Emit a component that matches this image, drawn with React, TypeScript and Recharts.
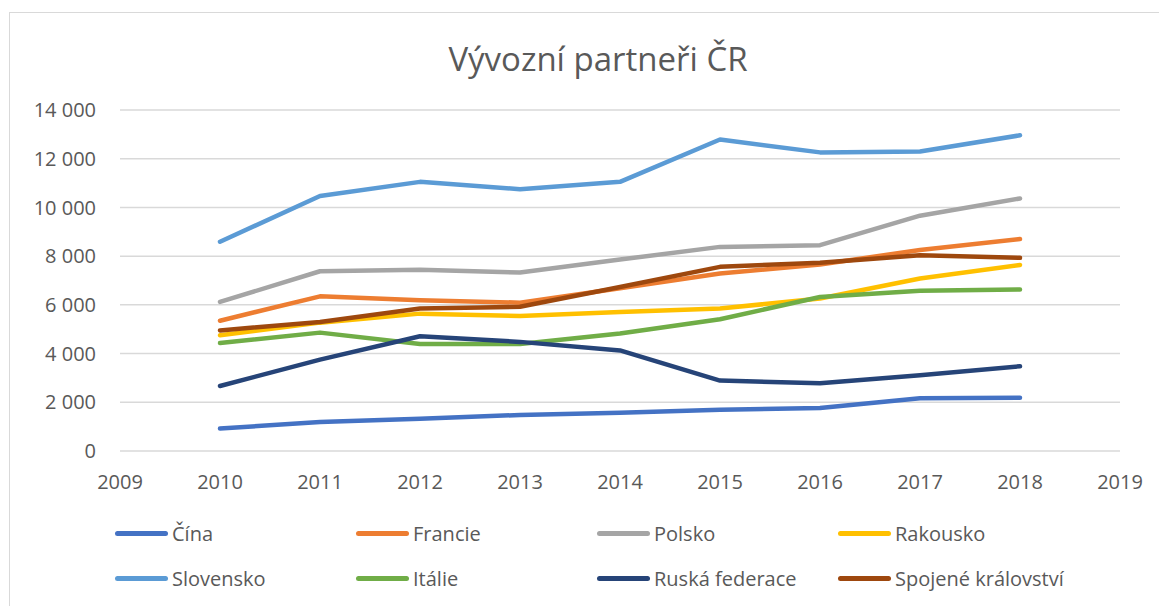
import { LineChart, Line, XAxis, YAxis, CartesianGrid, Legend } from 'recharts'

const roky = [2010, 2011, 2012, 2013, 2014, 2015, 2016, 2017, 2018]

const cina = [920, 1190, 1320, 1480, 1570, 1690, 1770, 2170, 2190]
const francie = [5350, 6350, 6190, 6090, 6680, 7290, 7660, 8250, 8700]
const polsko = [6120, 7380, 7440, 7330, 7860, 8380, 8450, 9660, 10370]
const rakousko = [4750, 5270, 5640, 5540, 5710, 5850, 6260, 7080, 7640]
const slovensko = [8590, 10470, 11050, 10750, 11050, 12790, 12260, 12300, 12960]
const italie = [4430, 4860, 4390, 4390, 4820, 5410, 6320, 6580, 6630]
const ruskaFederace = [2670, 3750, 4710, 4480, 4130, 2890, 2780, 3110, 3480]
const spojeneKralovstvi = [4950, 5300, 5850, 5920, 6730, 7560, 7730, 8040, 7930]

const yTicks = [0, 2000, 4000, 6000, 8000, 10000, 12000, 14000]
const xTicks = [2009, 2010, 2011, 2012, 2013, 2014, 2015, 2016, 2017, 2018, 2019]

const serie = [
  { key: 'cina', name: 'Čína', color: '#4472c4', values: cina },
  { key: 'francie', name: 'Francie', color: '#ed7d31', values: francie },
  { key: 'polsko', name: 'Polsko', color: '#a5a5a5', values: polsko },
  { key: 'rakousko', name: 'Rakousko', color: '#ffc000', values: rakousko },
  { key: 'slovensko', name: 'Slovensko', color: '#5b9bd5', values: slovensko },
  { key: 'italie', name: 'Itálie', color: '#70ad47', values: italie },
  { key: 'ruska', name: 'Ruská federace', color: '#264478', values: ruskaFederace },
  { key: 'spojene', name: 'Spojené království', color: '#9e480e', values: spojeneKralovstvi },
]

const data = roky.map((rok, i) => {
  const row: Record<string, number> = { rok }
  serie.forEach(s => { row[s.key] = s.values[i] })
  return row
})

const FONT = '"Open Sans", sans-serif'
const GRAY = '#595959'

const formatTisice = (v: number) =>
  v === 0 ? '0' : `${Math.floor(v / 1000)} ${String(v % 1000).padStart(3, '0')}`

function LegendaObsah() {
  return (
    <div style={{ display: 'grid', gridTemplateColumns: 'repeat(4, 241px)', rowGap: 21, paddingLeft: 115 }}>
      {serie.map(s => (
        <div key={s.key} style={{ display: 'flex', alignItems: 'center', height: 24 }}>
          <span style={{ width: 53, height: 5, borderRadius: 3, background: s.color, marginRight: 4 }} />
          <span style={{ fontFamily: FONT, fontSize: 20, color: GRAY, whiteSpace: 'nowrap' }}>{s.name}</span>
        </div>
      ))}
    </div>
  )
}

export default function App() {
  return (
    <div style={{ position: 'absolute', left: 0, top: 0, width: 1159, height: 606, background: '#fff' }}>
      <div style={{
        position: 'absolute', left: 9, top: 12, width: 1170, height: 620,
        border: '1px solid #d9d9d9', boxSizing: 'border-box',
      }} />
      <div style={{
        position: 'absolute', left: 0, top: 36, width: 1196, textAlign: 'center',
        fontFamily: FONT, fontSize: 33, color: GRAY,
      }}>
        Vývozní partneři ČR
      </div>
      <LineChart
        width={1159}
        height={606}
        data={data}
        margin={{ top: 110, right: 39, left: 10, bottom: 115 }}
        style={{ position: 'absolute', left: 0, top: 0 }}
      >
        <CartesianGrid vertical={false} stroke="#d9d9d9" strokeWidth={1.5} />
        <XAxis
          dataKey="rok"
          type="number"
          domain={[2009, 2019]}
          ticks={xTicks}
          interval={0}
          axisLine={false}
          tickLine={false}
          height={40}
          tick={{ fontSize: 20, fill: GRAY, fontFamily: FONT, dy: 16 }}
        />
        <YAxis
          domain={[0, 14000]}
          ticks={yTicks}
          width={110}
          axisLine={false}
          tickLine={false}
          tickFormatter={formatTisice}
          tick={{ fontSize: 20, fill: GRAY, fontFamily: FONT, dx: -16 }}
        />
        <Legend
          layout="horizontal"
          verticalAlign="middle"
          align="center"
          wrapperStyle={{ top: 521, left: 0, width: 1159 }}
          content={() => <LegendaObsah />}
        />
        {serie.map(s => (
          <Line
            key={s.key}
            dataKey={s.key}
            name={s.name}
            stroke={s.color}
            strokeWidth={4.5}
            strokeLinecap="round"
            strokeLinejoin="round"
            dot={false}
            activeDot={false}
            isAnimationActive={false}
          />
        ))}
      </LineChart>
    </div>
  )
}
